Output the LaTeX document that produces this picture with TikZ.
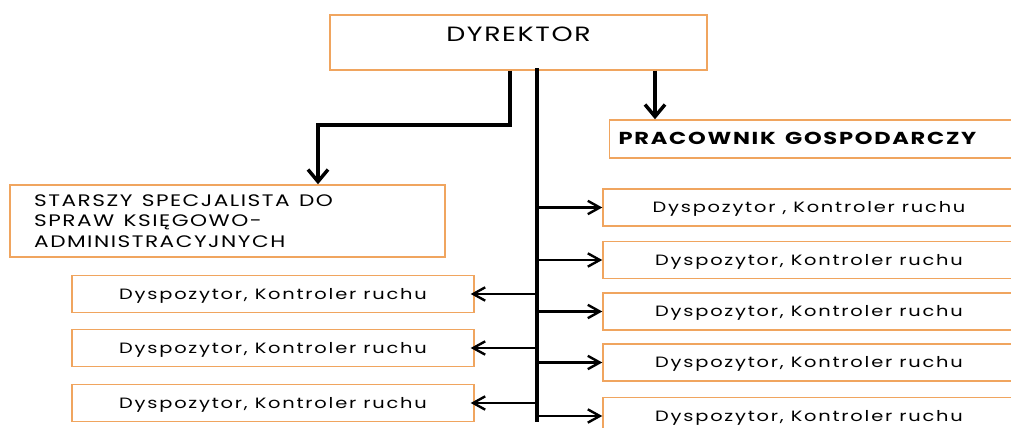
\documentclass[tikz,border=0pt]{standalone}
\usepackage{fontspec}
\setmainfont{Poppins}[FakeStretch=1.3,LetterSpace=12]
\newfontfamily\wideupper{Poppins}[FakeStretch=1.3,LetterSpace=9]
\usetikzlibrary{arrows.meta,positioning}
\definecolor{boxorange}{RGB}{240,165,95}

\tikzset{
  box/.style={draw=boxorange, line width=1.1pt, rectangle, inner sep=0pt},
  job/.style={box, minimum height=27.75pt, text height=1.6ex, text depth=.2ex,
    font=\fontsize{11.2}{12}\selectfont},
  trunk/.style={line width=3.4pt, line cap=rect},
  link/.style={line width=2.6pt, -{Straight Barb[length=9pt,width=15pt]}},
  branch/.style={line width=1.8pt, -{Straight Barb[length=9pt,width=10pt]}}
}

\begin{document}
\begin{tikzpicture}[x=0.75pt,y=-0.75pt]
  \useasboundingbox (0,0) rectangle (1011,428);
  \clip (0,0) rectangle (1011,428);

  % boxes
  \node[box, minimum width=282.75pt, minimum height=41.25pt, text height=1.6ex, text depth=10.5pt,
    font=\fontsize{15.5}{18}\selectfont\addfontfeatures{LetterSpace=8}] (dyr) at (518.5,42.5) {DYREKTOR};
  \node[box, minimum width=303.75pt, minimum height=28.5pt, text width=290pt, align=left,
    text height=1.6ex, text depth=.2ex,
    font=\fontsize{13}{15}\selectfont\bfseries\addfontfeatures{LetterSpace=10}] (prac) at (812,139)
    {\spaceskip=7pt\relax PRACOWNIK GOSPODARCZY};
  \node[box, minimum width=326.25pt, minimum height=54pt, text width=290pt, align=left,
    font=\wideupper\fontsize{12.5}{15.4}\selectfont] (star) at (227.5,221)
    {\spaceskip=7pt\relax STARSZY SPECJALISTA DO\\SPRAW KSIĘGOWO-\\ADMINISTRACYJNYCH};

  \node[job, minimum width=301.5pt] (l1) at (273,294) {Dyspozytor, Kontroler ruchu};
  \node[job, minimum width=301.5pt] (l2) at (273,348) {Dyspozytor, Kontroler ruchu};
  \node[job, minimum width=301.5pt] (l3) at (273,403) {Dyspozytor, Kontroler ruchu};

  \node[job, minimum width=309pt] (r1) at (809,207.5) {Dyspozytor , Kontroler ruchu};
  \node[job, minimum width=309pt] (r2) at (809,260) {Dyspozytor, Kontroler ruchu};
  \node[job, minimum width=309pt] (r3) at (809,311.5) {Dyspozytor, Kontroler ruchu};
  \node[job, minimum width=309pt] (r4) at (809,362.5) {Dyspozytor, Kontroler ruchu};
  \node[job, minimum width=309pt] (r5) at (809,416) {Dyspozytor, Kontroler ruchu};

  % connectors
  \coordinate (top) at (537,70);
  \coordinate (bottom) at (537,420);
  \coordinate (k1) at (510,125);
  \coordinate (k2) at (318,125);
  \coordinate (p) at (655,0);

  \draw[trunk] (dyr.south -| top) -- (bottom);
  \draw[link] (dyr.south -| k1) -- (k1) -- (k2) -- (star.north -| k2);
  \draw[link] (dyr.south -| p) -- (prac.north -| p);

  \foreach \n in {r1,r2,r3,r4,r5}
    \draw[branch] (top |- \n.west) -- (\n.west);
  \foreach \n in {l1,l2,l3}
    \draw[branch] (top |- \n.east) -- ([xshift=-3pt]\n.east);
\end{tikzpicture}
\end{document}
